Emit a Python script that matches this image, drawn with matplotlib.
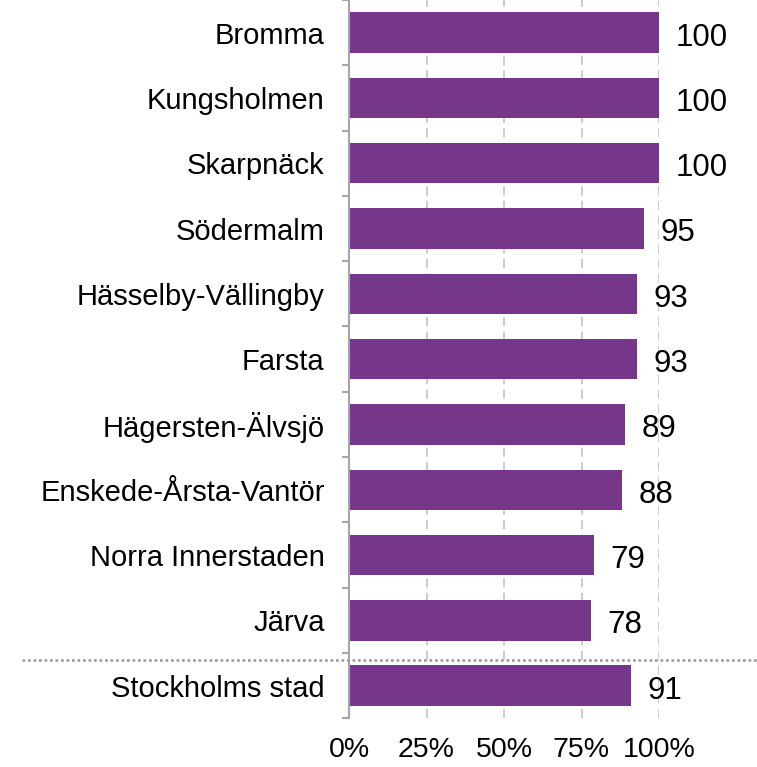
import matplotlib.pyplot as plt
import numpy as np
from matplotlib.transforms import blended_transform_factory

# Data (top to bottom)
districts = ["Bromma", "Kungsholmen", "Skarpnäck", "Södermalm",
             "Hässelby-Vällingby", "Farsta", "Hägersten-Älvsjö",
             "Enskede-Årsta-Vantör", "Norra Innerstaden", "Järva",
             "Stockholms stad"]
values = [100, 100, 100, 95, 93, 93, 89, 88, 79, 78, 91]
xticks = [0, 25, 50, 75, 100]
xtick_labels = ["0%", "25%", "50%", "75%", "100%"]

plt.rcParams['font.family'] = ['Liberation Sans', 'DejaVu Sans']

bar_color = "#763689"
grid_color = "#bfbfbf"
spine_color = "#a6a6a6"

fig = plt.figure(figsize=(7.57, 7.67), dpi=100)
ax = fig.add_axes([349 / 757, 1 - 718.3 / 767, 310 / 757, 718.3 / 767])

y = np.arange(len(districts))
ax.barh(y, values, height=0.62, color=bar_color, zorder=2)

ax.set_ylim(len(districts) - 0.5, -0.5)
ax.set_xlim(0, 100)

# value labels
for yi, v in zip(y, values):
    ax.annotate(str(v), xy=(v, yi), xytext=(12, -9.3), textcoords="offset points",
                ha="left", va="baseline", fontsize=22.5, color="black",
                annotation_clip=False)

# category labels and boundary ticks
ax.set_yticks(y)
ax.set_yticklabels(districts, fontsize=21)
ax.tick_params(axis="y", which="major", length=0, pad=17.5)
ax.set_yticks(np.arange(-0.5, len(districts), 1), minor=True)
ax.tick_params(axis="y", which="minor", length=5, width=1.5,
               color=spine_color, direction="out")

ax.set_xticks(xticks)
ax.set_xticklabels(xtick_labels, fontsize=20.5)
ax.tick_params(axis="x", length=0, pad=13.5)

# dashed vertical gridlines
for xt in xticks[1:]:
    ax.axvline(xt, color=grid_color, lw=1.1, linestyle=(0, (6, 3.5)), zorder=1)

for side in ["top", "right", "bottom"]:
    ax.spines[side].set_visible(False)
ax.spines["left"].set_color(spine_color)
ax.spines["left"].set_linewidth(1.5)
ax.spines["left"].set_zorder(3)

# dotted separator above the city total
trans = blended_transform_factory(fig.transFigure, ax.transData)
sep = plt.Line2D([22 / 757, 1.0], [9.6, 9.6], transform=trans,
                 color="#999999", lw=1.8, linestyle=(0, (1.1, 1.1)))
fig.add_artist(sep)

fig.savefig("out.png", dpi=100)
